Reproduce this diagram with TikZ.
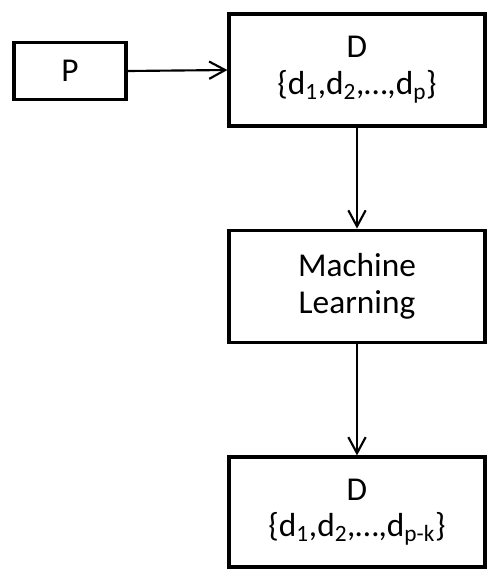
\documentclass[tikz,border=0pt]{standalone}
\usepackage{fontspec}
\setmainfont{Carlito}
\usetikzlibrary{arrows.meta}

\tikzset{
  blockbox/.style={draw, line width=2.4pt, align=center, inner sep=0pt,
    font=\fontsize{25}{27.5}\selectfont},
  flowarrow/.style={line width=1.6pt, -{Straight Barb[length=12pt,width=13pt,line width=1.6pt]}}
}

\begin{document}
\begin{tikzpicture}[x=0.75pt,y=0.75pt,yscale=-1,xscale=1]
\useasboundingbox (0,0) rectangle (488,569);

% Boxes
\node [blockbox, minimum width=84pt, minimum height=42.5pt] (prob) at (70,71) {P};
\node [blockbox, minimum width=192pt, minimum height=84pt] (data) at (357,70) {D\\\{d\textsubscript{1},d\textsubscript{2},\dots,d\textsubscript{p}\}};
\node [blockbox, minimum width=192pt, minimum height=84.5pt] (learn) at (357,286.5) {Machine\\Learning};
\node [blockbox, minimum width=192pt, minimum height=82.5pt] (reduced) at (357,512) {D\\\{d\textsubscript{1},d\textsubscript{2},\dots,d\textsubscript{p-k}\}};

% Arrows
\draw [flowarrow] (prob.east) -- (data.west);
\draw [flowarrow] (data.south) -- (learn.north);
\draw [flowarrow] (learn.south) -- (reduced.north);

\end{tikzpicture}
\end{document}
